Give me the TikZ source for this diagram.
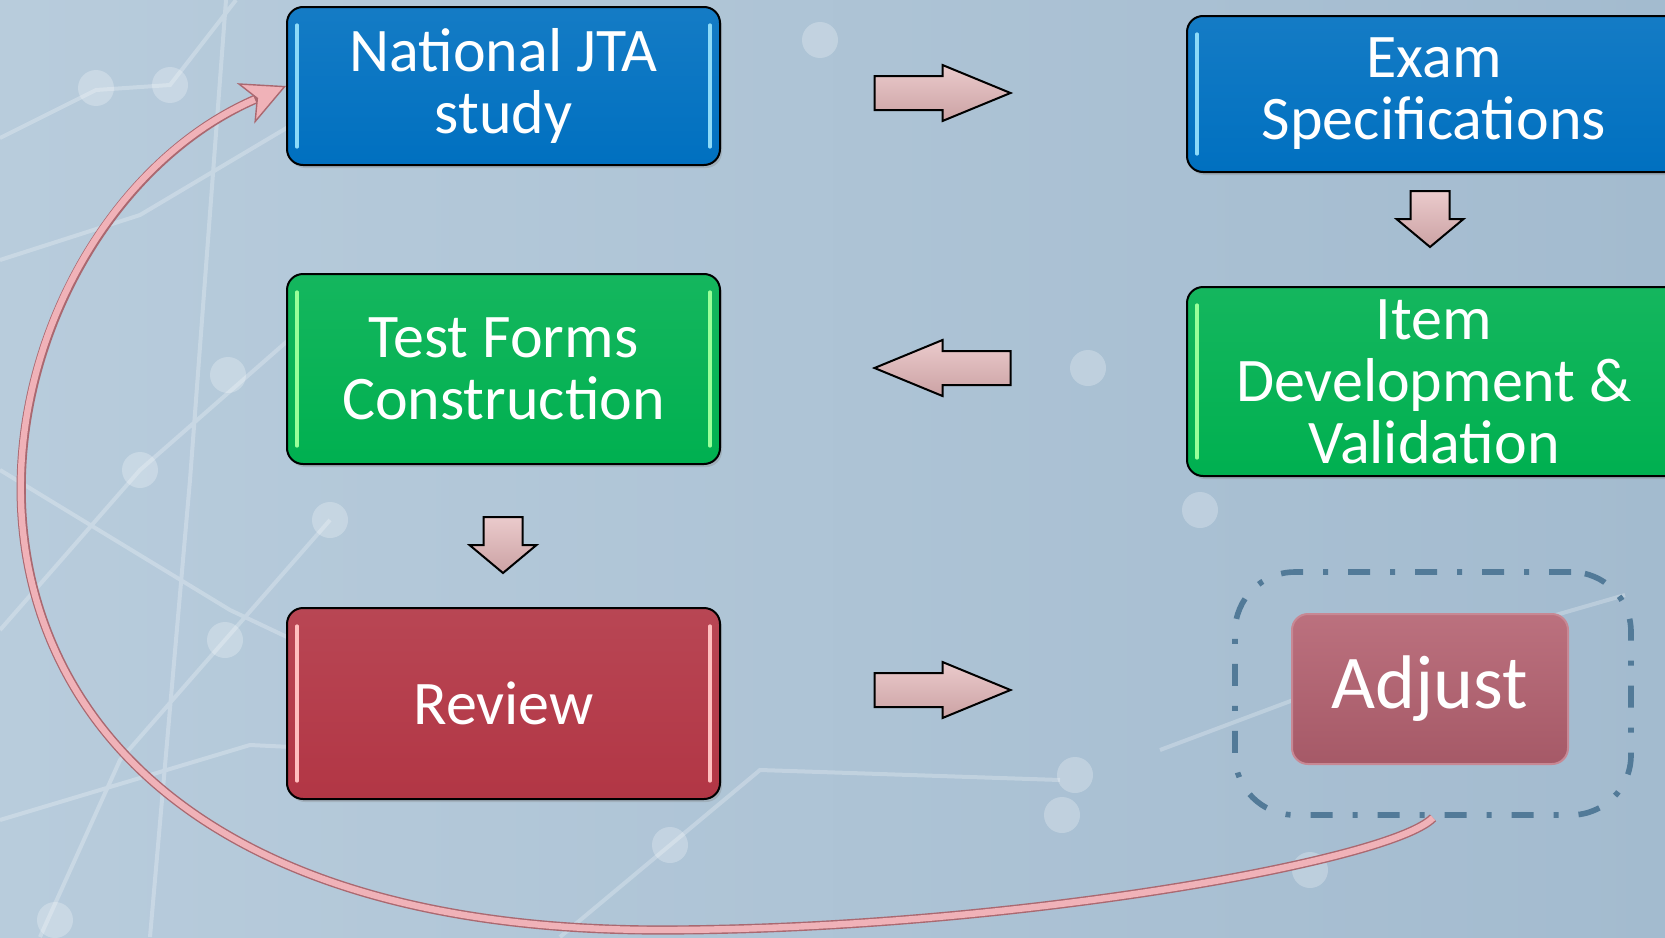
\documentclass[tikz,border=0pt]{standalone}
\usepackage{fontspec}
\setmainfont{Carlito}
\usetikzlibrary{arrows.meta,shadows}

\definecolor{bgleft}{RGB}{184,204,220}
\definecolor{bgright}{RGB}{163,187,207}
\definecolor{jtablue}{RGB}{0,112,192}
\definecolor{formgreen}{RGB}{0,176,80}
\definecolor{reviewred}{RGB}{178,54,69}
\definecolor{adjustrose}{RGB}{180,97,112}
\definecolor{arrowpink}{RGB}{226,180,182}
\definecolor{loopblue}{RGB}{82,122,152}
\definecolor{curvepink}{RGB}{240,178,184}
\definecolor{curveedge}{RGB}{170,104,112}

\tikzset{
  stepbox/.style={draw=black, line width=1pt, rounded corners=8pt, text=white,
    align=center, inner sep=0pt, font=\fontsize{31}{31}\selectfont,
    drop shadow={opacity=0.3, shadow xshift=1pt, shadow yshift=-1.5pt},
    path picture={
      \draw[#1, line width=1.6pt, line cap=round]
        ([xshift=5pt,yshift=-9pt]path picture bounding box.north west) -- ([xshift=5pt,yshift=9pt]path picture bounding box.south west)
        ([xshift=-5pt,yshift=-9pt]path picture bounding box.north east) -- ([xshift=-5pt,yshift=9pt]path picture bounding box.south east);
    }},
  flowarrow/.style={draw=black, line width=1pt, line join=miter, top color=arrowpink!70!white, bottom color=arrowpink!90!black},
  netline/.style={white, line width=2pt, opacity=0.25},
  netdot/.style={white, opacity=0.25}
}

% block arrow: x, y, angle, half length, half shaft, half head
\newcommand{\flowarrow}[6]{%
  \draw[flowarrow, shift={(#1,#2)}, rotate=#3]
    (-#4,-#5) -- (0,-#5) -- (0,-#6) -- (#4,0) -- (0,#6) -- (0,#5) -- (-#4,#5) -- cycle;}

\begin{document}
\begin{tikzpicture}[x=0.5pt,y=-0.5pt]
\useasboundingbox (0,0) rectangle (1665,937);
\begin{scope}
\clip (0,0) rectangle (1665,937);
\shade[left color=bgleft, right color=bgright] (0,0) rectangle (1665,937);

% network in the background
\draw[netline] (0,138) -- (96,90) -- (170,85) -- (236,0)
  (226,0) -- (190,480) -- (150,937)
  (0,260) -- (140,215) -- (300,120)
  (0,630) -- (140,470) -- (300,330)
  (0,470) -- (230,610) -- (420,700)
  (40,937) -- (120,760) -- (330,520)
  (0,820) -- (250,745) -- (560,760)
  (1160,750) -- (1400,660) -- (1625,595)
  (560,937) -- (760,770) -- (1060,780);
\foreach \x/\y in {820/40, 96/88, 170/85, 228/375, 225/640, 140/470,
  670/845, 1062/815, 1075/775, 1088/368, 1200/510, 1310/870, 55/920, 330/520}
  \fill[netdot] (\x,\y) circle (9pt);

% steps
\node[stepbox=cyan!45, top color=jtablue!92!white, bottom color=jtablue,
  minimum width=216.5pt, minimum height=79pt] (jta) at (503.5,86) {National JTA\\study};
\node[stepbox=cyan!45, top color=jtablue!92!white, bottom color=jtablue,
  minimum width=247pt, minimum height=78pt] (spec) at (1434,94) {Exam\\Specifications};
\node[stepbox=green!40!white, top color=formgreen!92!white, bottom color=formgreen,
  minimum width=216.5pt, minimum height=95pt] (forms) at (503.5,369) {Test Forms\\Construction};
\node[stepbox=green!40!white, top color=formgreen!92!white, bottom color=formgreen,
  minimum width=247pt, minimum height=94.5pt] (items) at (1434,381.5) {Item\\Development \&\\Validation};
\node[stepbox=red!25!white, top color=reviewred!92!white, bottom color=reviewred,
  minimum width=216.5pt, minimum height=95.5pt] (review) at (503.5,703.5) {Review};

% adjust and its frame
\node[draw=loopblue, line width=2.8pt, rounded corners=30pt,
  dash pattern=on 11pt off 10pt on 2.5pt off 10pt,
  minimum width=198pt, minimum height=121.5pt] (loop) at (1433,693.5) {};
\node[draw=adjustrose!75!white, line width=1pt, rounded corners=8pt, text=white,
  top color=adjustrose!90!white, bottom color=adjustrose!92!black,
  font=\fontsize{38}{38}\selectfont, minimum width=138pt, minimum height=75pt] (adjust) at (1430,689) {Adjust};

% block arrows
\flowarrow{942.5}{93}{0}{68}{17}{28}
\flowarrow{942.5}{368}{180}{68}{17}{28}
\flowarrow{942.5}{690}{0}{68}{17}{28}
\flowarrow{1430}{219}{-90}{28}{19.5}{33.5}
\flowarrow{503}{545}{-90}{28}{19.5}{33.5}

% back to the start
\draw[curveedge, line width=4.6pt,
  -{Stealth[length=22pt, width=22pt, inset=6pt, fill=curvepink, line width=0.7pt]}]
  (loop.south) .. controls (1390,862) and (1000,930) .. (660,930)
  .. controls (-170,930) and (-60,235) .. (jta.west);
\draw[curvepink, line width=3.2pt, shorten >=17pt]
  (loop.south) .. controls (1390,862) and (1000,930) .. (660,930)
  .. controls (-170,930) and (-60,235) .. (jta.west);
\end{scope}
\end{tikzpicture}
\end{document}
